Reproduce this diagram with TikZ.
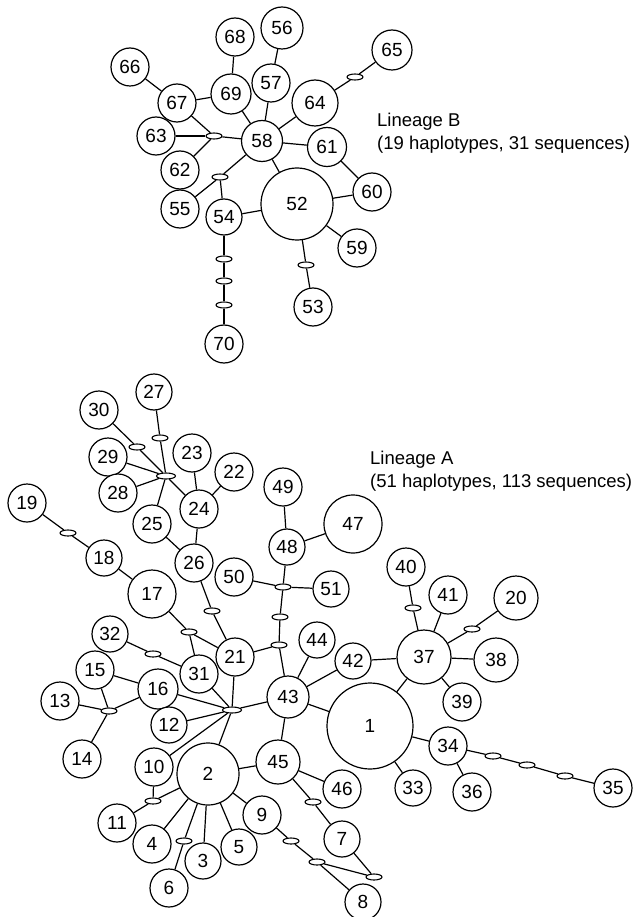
\documentclass[tikz,border=0pt]{standalone}
\usepackage{fontspec}
\setmainfont{Liberation Sans}
\usetikzlibrary{shapes.geometric}
\tikzset{
  hap/.style={circle,draw,fill=white,line width=1.2pt,minimum size=2*#1,inner sep=0pt,font=\fontsize{19}{21}\selectfont},
  mut/.style={ellipse,draw,fill=white,line width=1.1pt,minimum width=16pt,minimum height=6pt,inner sep=0pt},
  bigmut/.style={mut,minimum width=19pt},
  lnk/.style={line width=1.2pt},
  lbl/.style={anchor=west,align=left,inner sep=0pt,font=\fontsize{18.5}{23}\selectfont}
}
\begin{document}
\begin{tikzpicture}[x=1pt,y=-1pt]
\useasboundingbox (0,0) rectangle (634,917);
% ---------------- Lineage B ----------------
\node[hap=19] (n66) at (130,67) {66};
\node[hap=19] (n68) at (235,37) {68};
\node[hap=21] (n56) at (282,28) {56};
\node[hap=20] (n65) at (392,50) {65};
\node[hap=19] (n67) at (177,103) {67};
\node[hap=20] (n69) at (231,94) {69};
\node[hap=19] (n57) at (271,83) {57};
\node[hap=23] (n64) at (315,103) {64};
\node[hap=19] (n63) at (156,136) {63};
\node[hap=20.5] (n58) at (262,141) {58};
\node[hap=19.5] (n61) at (327,147) {61};
\node[hap=19] (n62) at (180,170) {62};
\node[hap=19] (n60) at (372,192) {60};
\node[hap=36] (n52) at (297,204) {52};
\node[hap=19] (n55) at (180,209) {55};
\node[hap=18] (n54) at (224,217) {54};
\node[hap=19] (n59) at (357,248) {59};
\node[hap=19] (n53) at (313,307) {53};
\node[hap=19] (n70) at (224,344) {70};
\node[mut] (b1) at (355,77) {};
\node[mut] (b2) at (214,136) {};
\node[mut] (b3) at (220,177) {};
\node[mut] (b4) at (306,265) {};
\node[mut] (b5) at (224,259) {};
\node[mut] (b6) at (224,281) {};
\node[mut] (b7) at (224,305) {};
\draw[lnk] (n66) -- (n67);
\draw[lnk] (n68) -- (n69);
\draw[lnk] (n56) -- (n57);
\draw[lnk] (n67) -- (n69);
\draw[lnk] (n69) -- (n58);
\draw[lnk] (n57) -- (n58);
\draw[lnk] (n64) -- (n58);
\draw[lnk] (n65) -- (b1) -- (n64);
\draw[lnk] (n67) -- (b2);
\draw[lnk] (n63) -- (b2);
\draw[lnk] (n62) -- (b2);
\draw[lnk] (b2) -- (n58);
\draw[lnk] (n58) -- (n61);
\draw[lnk] (n58) -- (b3);
\draw[lnk] (b3) -- (n55);
\draw[lnk] (b3) -- (n54);
\draw[lnk] (n58) -- (n52);
\draw[lnk] (n54) -- (n52);
\draw[lnk] (n61) -- (n60);
\draw[lnk] (n60) -- (n52);
\draw[lnk] (n52) -- (n59);
\draw[lnk] (n52) -- (b4) -- (n53);
\draw[lnk] (n54) -- (b5) -- (b6) -- (b7) -- (n70);
\node[lbl] (tb) at (377,133.5) {Lineage B\\(19 haplotypes, 31 sequences)};
% ---------------- Lineage A ----------------
\node[hap=18] (n27) at (154,392) {27};
\node[hap=19] (n30) at (99,410) {30};
\node[hap=19] (n23) at (192,453) {23};
\node[hap=19] (n29) at (108,457) {29};
\node[hap=19] (n22) at (234,472) {22};
\node[hap=19] (n28) at (118,493) {28};
\node[hap=19] (n49) at (283,487) {49};
\node[hap=19] (n24) at (199,509) {24};
\node[hap=19] (n19) at (27,503) {19};
\node[hap=19] (n25) at (152,524) {25};
\node[hap=18] (n48) at (287,547) {48};
\node[hap=18] (n18) at (104,558) {18};
\node[hap=19] (n26) at (194,563) {26};
\node[hap=29] (n47) at (353,524) {47};
\node[hap=19] (n40) at (406,567) {40};
\node[hap=18] (n51) at (331,589) {51};
\node[hap=19] (n41) at (448,595) {41};
\node[hap=22] (n20) at (516,598) {20};
\node[hap=24] (n17) at (152,594) {17};
\node[hap=19] (n50) at (234,577) {50};
\node[hap=18] (n32) at (110,634) {32};
\node[hap=18] (n44) at (317,640) {44};
\node[hap=19] (n21) at (235,657) {21};
\node[hap=19] (n15) at (95,670) {15};
\node[hap=19] (n31) at (199,674) {31};
\node[hap=20] (n16) at (158,689) {16};
\node[hap=21] (n43) at (288,697) {43};
\node[hap=19] (n13) at (60,701) {13};
\node[hap=18] (n12) at (169,725) {12};
\node[hap=19] (n14) at (82,759) {14};
\node[hap=19] (n10) at (154,767) {10};
\node[hap=31] (n2) at (208,774) {2};
\node[hap=18] (n42) at (353,661) {42};
\node[hap=27] (n37) at (424,657) {37};
\node[hap=22] (n38) at (496,660) {38};
\node[hap=19] (n39) at (462,702) {39};
\node[hap=43] (n1) at (370,726) {1};
\node[hap=19] (n34) at (448,746) {34};
\node[hap=19] (n35) at (613,788) {35};
\node[hap=22] (n45) at (278,762) {45};
\node[hap=19] (n46) at (342,789) {46};
\node[hap=18] (n33) at (413,788) {33};
\node[hap=19] (n36) at (472,792) {36};
\node[hap=19] (n11) at (117,823) {11};
\node[hap=19] (n9) at (262,815) {9};
\node[hap=18] (n7) at (342,839) {7};
\node[hap=19] (n4) at (152,844) {4};
\node[hap=18] (n5) at (239,847) {5};
\node[hap=18] (n3) at (203,861) {3};
\node[hap=19] (n6) at (169,888) {6};
\node[hap=18] (n8) at (363,902) {8};
% mutation steps
\node[mut] (a1) at (160,438) {};
\node[mut] (a2) at (137,447) {};
\node[bigmut] (a3) at (166,476) {};
\node[mut] (a4) at (68,533) {};
\node[mut] (a5) at (283,587) {};
\node[mut] (a6) at (280,617) {};
\node[mut] (a7) at (279,645) {};
\node[mut] (a8) at (212,611) {};
\node[mut] (a9) at (189,632) {};
\node[mut] (a10) at (153,654) {};
\node[bigmut] (hub) at (232,710) {};
\node[mut] (a11) at (109,711) {};
\node[mut] (a12) at (413,608) {};
\node[mut] (a13) at (472,629) {};
\node[mut] (a14) at (493,756) {};
\node[mut] (a15) at (527,765) {};
\node[mut] (a16) at (565,776) {};
\node[mut] (a17) at (153,801) {};
\node[mut] (a18) at (313,802) {};
\node[mut] (a19) at (184,841) {};
\node[mut] (a20) at (291,841) {};
\node[mut] (a21) at (317,862) {};
\node[mut] (a22) at (374,877) {};
% links
\draw[lnk] (n27) -- (a1) -- (a3);
\draw[lnk] (n30) -- (a2) -- (a3);
\draw[lnk] (n29) -- (a3);
\draw[lnk] (n28) -- (a3);
\draw[lnk] (n25) -- (a3);
\draw[lnk] (n24) -- (a3);
\draw[lnk] (n24) -- (n23);
\draw[lnk] (n24) -- (n22);
\draw[lnk] (n24) -- (n26);
\draw[lnk] (n25) -- (n26);
\draw[lnk] (n26) -- (a8) -- (n21);
\draw[lnk] (n19) -- (a4) -- (n18);
\draw[lnk] (n18) -- (n17);
\draw[lnk] (n17) -- (a9);
\draw[lnk] (a9) -- (n21);
\draw[lnk] (a9) -- (n31);
\draw[lnk] (n32) -- (a10) -- (n31);
\draw[lnk] (n49) -- (n48);
\draw[lnk] (n48) -- (n47);
\draw[lnk] (n48) -- (a5);
\draw[lnk] (n50) -- (a5) -- (n51);
\draw[lnk] (a5) -- (a6) -- (a7) -- (n43);
\draw[lnk] (n21) -- (a7);
\draw[lnk] (n15) -- (n16);
\draw[lnk] (n15) -- (a11);
\draw[lnk] (n13) -- (a11);
\draw[lnk] (n14) -- (a11);
\draw[lnk] (n16) -- (a11);
\draw[lnk] (n16) -- (hub);
\draw[lnk] (n31) -- (hub);
\draw[lnk] (n21) -- (hub);
\draw[lnk] (n12) -- (hub);
\draw[lnk] (n10) -- (hub);
\draw[lnk] (n2) -- (hub);
\draw[lnk] (n43) -- (hub);
\draw[lnk] (n43) -- (n44);
\draw[lnk] (n43) -- (n42);
\draw[lnk] (n43) -- (n1);
\draw[lnk] (n43) -- (n45);
\draw[lnk] (n42) -- (n37);
\draw[lnk] (n1) -- (n37);
\draw[lnk] (n37) -- (a12) -- (n40);
\draw[lnk] (n37) -- (n41);
\draw[lnk] (n37) -- (a13) -- (n20);
\draw[lnk] (n37) -- (n38);
\draw[lnk] (n37) -- (n39);
\draw[lnk] (n1) -- (n34);
\draw[lnk] (n1) -- (n33);
\draw[lnk] (n34) -- (n36);
\draw[lnk] (n34) -- (a14) -- (a15) -- (a16) -- (n35);
\draw[lnk] (n2) -- (n45);
\draw[lnk] (n45) -- (n46);
\draw[lnk] (n45) -- (a18) -- (n7);
\draw[lnk] (n10) -- (a17);
\draw[lnk] (n11) -- (a17) -- (n2);
\draw[lnk] (n2) -- (n4);
\draw[lnk] (n2) -- (a19) -- (n6);
\draw[lnk] (n2) -- (n3);
\draw[lnk] (n2) -- (n5);
\draw[lnk] (n2) -- (n9);
\draw[lnk] (n9) -- (a20) -- (a21) -- (n8);
\draw[lnk] (a21) -- (a22) -- (n7);
\node[lbl] (ta) at (370,471.5) {Lineage A\\(51 haplotypes, 113 sequences)};
\end{tikzpicture}
\end{document}
